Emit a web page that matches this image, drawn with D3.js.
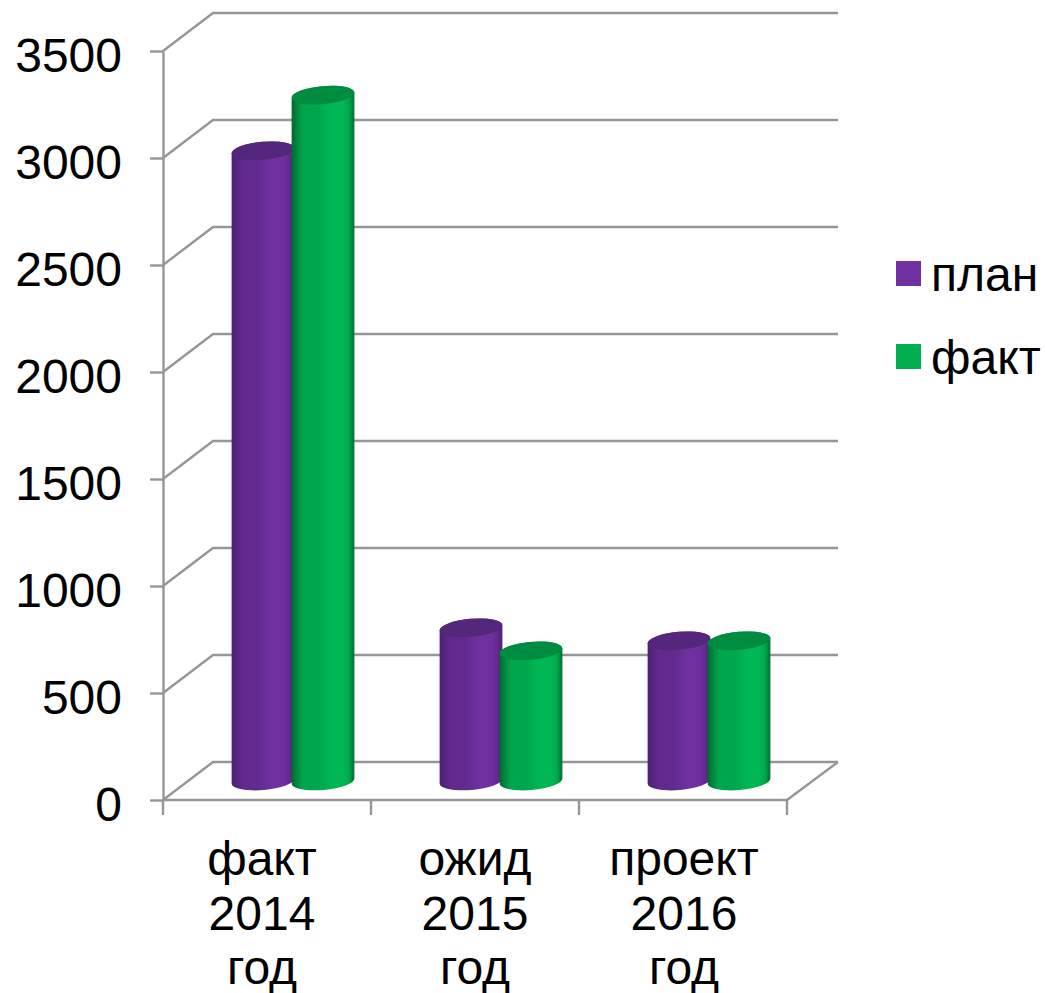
<!DOCTYPE html>
<html><head><meta charset="utf-8">
<script src="https://cdn.jsdelivr.net/npm/d3@7"></script>
<style>html,body{margin:0;padding:0;background:#fff}svg{display:block}text{font-family:"Liberation Sans",Arial,sans-serif;fill:#000}</style>
</head><body><svg id="c" width="1045" height="993"></svg>
<script>
const categories = [["факт","2014","год"],["ожид","2015","год"],["проект","2016","год"]];
const seriesNames = ["план","факт"];
const plan = [2945,716,655];
const fact = [3205,608,655];
const yTicks = [0,500,1000,1500,2000,2500,3000,3500];
const colors = {план:{base:"#7030A0",mid:"#622A8E",edge:"#4A2070",top:"#54267C"},факт:{base:"#00B753",mid:"#00A64B",edge:"#006A30",top:"#008C40"}};
const values = {план:plan,факт:fact};

const W=1045,H=993,fs=48,gridColor="#969696";
const labelShift=[-5,0,1];
const svg=d3.select("#c");
const idx=categories.map((_,i)=>i);
const x=d3.scaleBand().domain(idx).range([163,787]);
const y=d3.scaleLinear().domain([0,3500]).range([800,51]);
const depth={dx:51,dy:-38};
const xs=d3.scaleBand().domain(seriesNames).range([0,120]);

const defs=svg.append("defs");
seriesNames.forEach((s,i)=>{
  const g=defs.append("linearGradient").attr("id","g"+i).attr("x1",0).attr("x2",1).attr("y1",0).attr("y2",0);
  const c=colors[s];
  [[0,c.edge],[.18,c.mid],[.42,c.mid],[.62,c.base],[.82,c.base],[.92,c.mid],[1,c.edge]].forEach(([o,k])=>g.append("stop").attr("offset",o).attr("stop-color",k));
});

const grid=svg.append("g").attr("fill","none").attr("stroke",gridColor).attr("stroke-width",2.4);
yTicks.forEach(t=>{
  grid.append("path").attr("d",d3.line()([[163,y(t)],[163+depth.dx-1,y(t)+depth.dy],[x.range()[1]+depth.dx,y(t)+depth.dy]]));
});
grid.append("path").attr("d",d3.line()([[x.range()[1],y(0)],[x.range()[1]+depth.dx,y(0)+depth.dy]]));

const yAxis=d3.axisLeft(y).tickValues(yTicks).tickSize(13).tickSizeOuter(0).tickFormat(d3.format("d"));
const ya=svg.append("g").attr("transform","translate(163,0)").call(yAxis);
ya.selectAll("line,path").attr("stroke",gridColor).attr("stroke-width",2.4);
ya.selectAll("text").attr("font-size",fs).attr("x",-41).attr("dy","0.42em").attr("text-anchor","end");

const xa=svg.append("g").attr("transform",`translate(0,${y(0)})`);
xa.append("line").attr("x1",163).attr("x2",787).attr("stroke",gridColor).attr("stroke-width",2.4);
[...idx.map(i=>x(i)),x.range()[1]].forEach(p=>xa.append("line").attr("x1",p).attr("x2",p).attr("y2",15).attr("stroke",gridColor).attr("stroke-width",2.4));
idx.forEach(i=>{
  categories[i].forEach((l,j)=>svg.append("text").attr("x",x(i)+x.bandwidth()/2+labelShift[i]).attr("y",875+j*54.5).attr("text-anchor","middle").attr("font-size",fs).text(l));
});

const rx=31.5,ry=9,rot=-5,rad=rot*Math.PI/180;
const ca=Math.cos(rad)*rx,sa=Math.sin(rad)*rx;
const midX=26,midY=-19;
seriesNames.forEach((s,si)=>{
  values[s].forEach((v,i)=>{
    const cx=x(i)+x.bandwidth()/2+midX-60+xs(s)+xs.bandwidth()/2;
    const by=y(0)+midY, ty=y(v)+midY;
    const body=`M${cx-ca},${ty-sa}A${rx},${ry} ${rot} 0 1 ${cx+ca},${ty+sa}L${cx+ca},${by+sa}A${rx},${ry} ${rot} 0 1 ${cx-ca},${by-sa}Z`;
    const g=svg.append("g");
    g.append("path").attr("d",body).attr("fill",`url(#g${si})`);
    g.append("ellipse").attr("cx",cx).attr("cy",ty).attr("rx",rx).attr("ry",ry).attr("transform",`rotate(${rot} ${cx} ${ty})`).attr("fill",colors[s].top);
  });
});

const legendY=[261,344];
seriesNames.forEach((s,i)=>{
  svg.append("rect").attr("x",896).attr("y",legendY[i]).attr("width",25).attr("height",25).attr("fill",["#7030A0","#00B050"][i]);
  svg.append("text").attr("x",931).attr("y",legendY[i]+30).attr("font-size",fs).text(s);
});
</script></body></html>
